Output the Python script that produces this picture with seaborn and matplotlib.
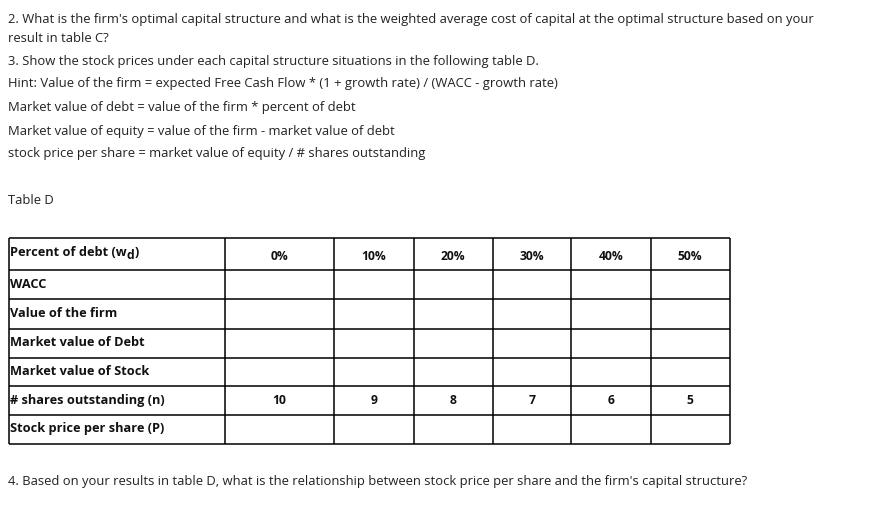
import matplotlib
matplotlib.use("Agg")
import matplotlib.pyplot as plt
import seaborn as sns

# ---- data ----
debt_pct = [0, 10, 20, 30, 40, 50]
shares_outstanding = [10, 9, 8, 7, 6, 5]
row_labels = ["Percent of debt (w", "WACC", "Value of the firm",
              "Market value of Debt", "Market value of Stock",
              "# shares outstanding (n)", "Stock price per share (P)"]
paragraphs = [
    "2. What is the firm's optimal capital structure and what is the weighted average cost of capital at the optimal structure based on your",
    "result in table C?",
    "3. Show the stock prices under each capital structure situations in the following table D.",
    "Hint: Value of the firm = expected Free Cash Flow * (1 + growth rate) / (WACC - growth rate)",
    "Market value of debt = value of the firm * percent of debt",
    "Market value of equity = value of the firm - market value of debt",
    "stock price per share = market value of equity / # shares outstanding",
]
table_title = "Table D"
final_question = "4. Based on your results in table D, what is the relationship between stock price per share and the firm's capital structure?"

# ---- layout ----
sns.set_theme(style="white")
plt.rcParams["font.family"] = ["Open Sans", "DejaVu Sans"]

W, H = 871, 518
fig = plt.figure(figsize=(W / 100, H / 100), dpi=100)
ax = fig.add_axes([0, 0, 1, 1])
ax.set_xlim(0, W)
ax.set_ylim(H, 0)
ax.axis("off")

txt_color = "#222222"
bold_color = "#111111"
body_size = 9.4
label_size = 9.2
cell_size = 8.7
para_y = [20, 38, 61, 84, 108, 131, 154]
for s, y in zip(paragraphs, para_y):
    ax.text(8, y, s, fontsize=body_size, color=txt_color, va="center", ha="left")
ax.text(8, 200, table_title, fontsize=body_size, color=txt_color, va="center", ha="left")
ax.text(8, 482, final_question, fontsize=body_size, color=txt_color, va="center", ha="left")

# table grid
col_edges = [8.5, 224.5, 334, 414, 492.5, 571, 650.5, 729.5]
row_edges = [238, 270, 299, 328.5, 357.5, 386, 415, 443.5]
for x in col_edges:
    ax.plot([x, x], [row_edges[0], row_edges[-1]], color="black", lw=1.1, solid_capstyle="butt")
for y in row_edges:
    ax.plot([col_edges[0], col_edges[-1]], [y, y], color="black", lw=1.1, solid_capstyle="butt")

# row labels
label_offsets = [-2, 0, 0, 0, 0, 0, -1]
for i, lab in enumerate(row_labels):
    yc = (row_edges[i] + row_edges[i + 1]) / 2 + label_offsets[i]
    t = ax.text(10, yc, lab, fontsize=label_size, fontweight="bold", color=bold_color,
                va="center", ha="left")
    if i == 0:
        fig.canvas.draw()
        t2 = ax.annotate("d", xy=(1, 0.5), xycoords=t, xytext=(0.0, -2.2),
                         textcoords="offset points", fontsize=label_size - 0.4,
                         fontweight="bold", color=bold_color, va="center", ha="left")
        ax.annotate(")", xy=(1, 0.5), xycoords=t2, xytext=(0.0, 2.2),
                    textcoords="offset points", fontsize=label_size,
                    fontweight="bold", color=bold_color, va="center", ha="left")

# header row: percent of debt
for j, p in enumerate(debt_pct):
    xc = (col_edges[j + 1] + col_edges[j + 2]) / 2
    yc = (row_edges[0] + row_edges[1]) / 2 + 2
    ax.text(xc, yc, f"{p}%", fontsize=cell_size, fontweight="bold", color=bold_color,
            va="center", ha="center")

# shares outstanding row
for j, n in enumerate(shares_outstanding):
    xc = (col_edges[j + 1] + col_edges[j + 2]) / 2
    yc = (row_edges[5] + row_edges[6]) / 2
    ax.text(xc, yc, str(n), fontsize=cell_size, fontweight="bold", color=bold_color,
            va="center", ha="center")

fig.savefig("out.png", dpi=100)
